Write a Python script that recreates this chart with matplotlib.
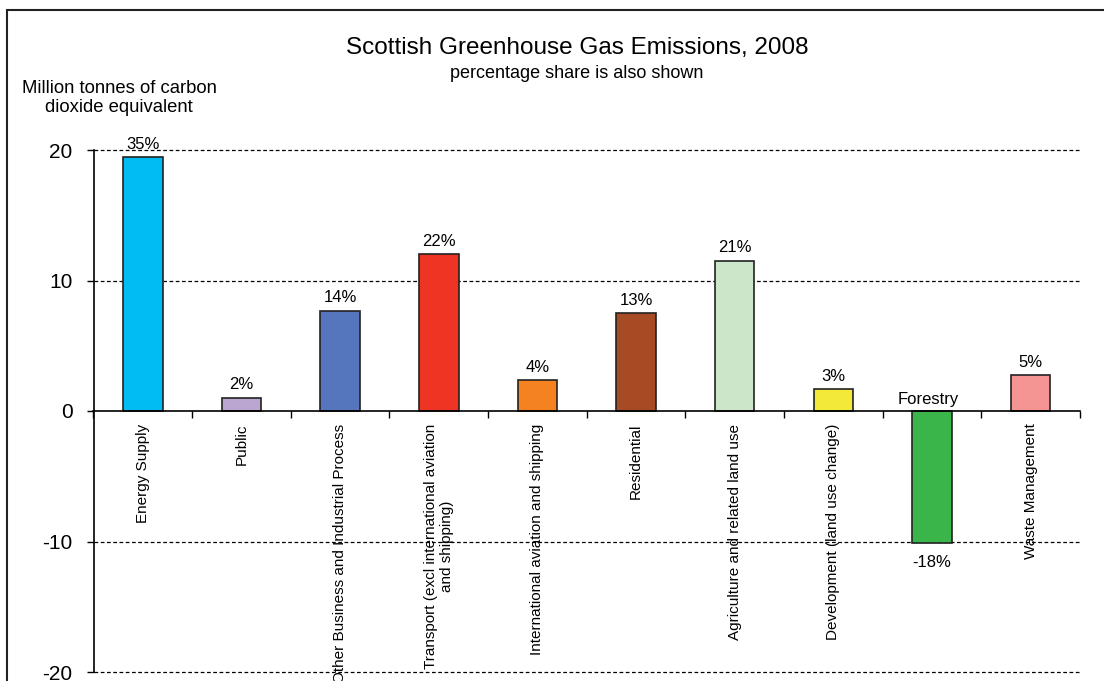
import matplotlib.pyplot as plt
from matplotlib.patches import Rectangle

plt.rcParams["font.family"] = ["Liberation Sans", "DejaVu Sans"]

categories = [
    "Energy Supply",
    "Public",
    "Other Business and Industrial Process",
    "Transport (excl international aviation\nand shipping)",
    "International aviation and shipping",
    "Residential",
    "Agriculture and related land use",
    "Development (land use change)",
    "",
    "Waste Management",
]
values = [19.45, 1.0, 7.7, 12.0, 2.35, 7.5, 11.5, 1.65, -10.1, 2.75]
shares = ["35%", "2%", "14%", "22%", "4%", "13%", "21%", "3%", "-18%", "5%"]
colors = ["#00BCF0", "#BBA6D2", "#5575BC", "#EE3524", "#F58220",
          "#A64B24", "#CCE6CA", "#F2E938", "#3AB54A", "#F49493"]
grid_levels = [-20, -10, 10, 20]

fig = plt.figure(figsize=(11.04, 6.81), dpi=100)
fig.patches.append(Rectangle((7 / 1104, -0.1), 1.2, 1.1 - 10 / 681,
                             transform=fig.transFigure, fill=False,
                             edgecolor="#222222", linewidth=1.5))

ax = fig.add_axes([93.5 / 1104, 1 - 672 / 681, (1080 - 93.5) / 1104, (672 - 150) / 681])
x = list(range(len(categories)))
ax.bar(x, values, width=0.4, color=colors, edgecolor="#222222", linewidth=1.2, zorder=3)

for lvl in grid_levels:
    ax.axhline(lvl, color="black", linestyle=(0, (3, 2)), linewidth=0.9,
               zorder=1, clip_on=False)

ax.set_xlim(-0.5, 9.5)
ax.set_ylim(-20, 20)
ax.set_yticks([-20, -10, 0, 10, 20])
ax.set_yticklabels(["-20", "-10", "0", "10", "20"], fontsize=15)
ax.tick_params(axis="y", direction="out", length=5, width=1, pad=10)

ax.spines["top"].set_visible(False)
ax.spines["right"].set_visible(False)
ax.spines["bottom"].set_position(("data", 0))
ax.spines["bottom"].set_zorder(4)
ax.spines["left"].set_linewidth(1.2)
ax.spines["bottom"].set_linewidth(1.2)

# category names sit at bar centres, tick marks at the boundaries between them
ax.set_xticks(x)
ax.set_xticklabels(categories, rotation=90, fontsize=11, va="top", ha="center",
                   multialignment="center")
ax.tick_params(axis="x", length=0, pad=9)
ax.set_xticks([i - 0.5 for i in range(len(categories) + 1)], minor=True)
ax.tick_params(axis="x", which="minor", direction="out", length=5, width=1)

for xi, v, s in zip(x, values, shares):
    if v >= 0:
        ax.annotate(s, (xi, v), xytext=(0, 4), textcoords="offset points",
                    ha="center", va="bottom", fontsize=12)
    else:
        ax.annotate(s, (xi, v), xytext=(0, -9), textcoords="offset points",
                    ha="center", va="top", fontsize=12)
ax.annotate("Forestry", (8, 0), xytext=(-3, 3), textcoords="offset points",
            ha="center", va="bottom", fontsize=12)

fig.text(577 / 1104, 1 - 48 / 681, "Scottish Greenhouse Gas Emissions, 2008",
         ha="center", va="center", fontsize=17.5)
fig.text(577 / 1104, 1 - 73 / 681, "percentage share is also shown",
         ha="center", va="center", fontsize=13)
fig.text(119 / 1104, 1 - 98 / 681, "Million tonnes of carbon\ndioxide equivalent",
         ha="center", va="center", fontsize=13.3, linespacing=1.15)

fig.savefig("out.png", dpi=100)
